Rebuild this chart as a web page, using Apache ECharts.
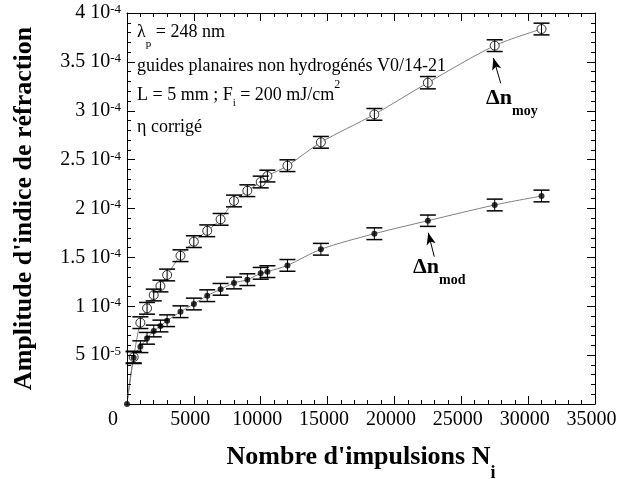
<!DOCTYPE html>
<html><head><meta charset="utf-8">
<script src="https://cdn.jsdelivr.net/npm/echarts@6/dist/echarts.min.js"></script>
<style>html,body{margin:0;padding:0;background:#fff}#c{width:618px;height:479px}</style>
</head><body><div id="c"></div>
<script>
// ---- data ----
const pulses = [500, 1000, 1500, 2000, 2500, 3000, 4000, 5000, 6000, 7000, 8000, 9000, 10000, 10500, 12000, 14500, 18500, 22500, 27500, 31000];
const dnMoy = [0.48e-4, 0.832e-4, 0.979e-4, 1.115e-4, 1.207e-4, 1.320e-4, 1.517e-4, 1.661e-4, 1.772e-4, 1.889e-4, 2.077e-4, 2.182e-4, 2.271e-4, 2.332e-4, 2.438e-4, 2.677e-4, 2.963e-4, 3.287e-4, 3.666e-4, 3.836e-4];
const dnMod = [0.474e-4, 0.586e-4, 0.672e-4, 0.747e-4, 0.798e-4, 0.852e-4, 0.944e-4, 1.023e-4, 1.108e-4, 1.173e-4, 1.238e-4, 1.272e-4, 1.337e-4, 1.354e-4, 1.418e-4, 1.583e-4, 1.742e-4, 1.875e-4, 2.036e-4, 2.128e-4];
const errMoy = [0.06e-4, 0.06e-4, 0.06e-4, 0.06e-4, 0.06e-4, 0.06e-4, 0.06e-4, 0.06e-4, 0.06e-4, 0.06e-4, 0.06e-4, 0.06e-4, 0.06e-4, 0.06e-4, 0.06e-4, 0.06e-4, 0.06e-4, 0.063e-4, 0.06e-4, 0.06e-4];
const errMod = [0.06e-4, 0.06e-4, 0.06e-4, 0.06e-4, 0.06e-4, 0.06e-4, 0.06e-4, 0.06e-4, 0.06e-4, 0.06e-4, 0.06e-4, 0.06e-4, 0.06e-4, 0.06e-4, 0.06e-4, 0.06e-4, 0.06e-4, 0.058e-4, 0.06e-4, 0.06e-4];
const origin = [0, 0];
const xTickLabels = ['0', '5000', '10000', '15000', '20000', '25000', '30000', '35000'];
const yTickMantissas = ['', '5', '1', '1.5', '2', '2.5', '3', '3.5', '4'];
const yTickExponents = ['', '-5', '-4', '-4', '-4', '-4', '-4', '-4', '-4'];
const xTitle = "Nombre d'impulsions N";
const xTitleSub = 'i';
const yTitle = "Amplitude d'indice de réfraction";
const infoLines = [
  ['λ', 'p', ' = 248 nm'],
  ['guides planaires non hydrogénés V0/14-21'],
  ['L = 5 mm ; F', 'i', ' = 200 mJ/cm', '2'],
  ['η corrigé']
];
// annotation anchors (data coords) and arrows (tail -> tip)
const annMoy = { label: 'moy', at: [26850, 3.238e-4], tail: [27950, 3.281e-4], tip: [27400, 3.54e-4] };
const annMod = { label: 'mod', at: [21390, 1.509e-4], tail: [22980, 1.507e-4], tip: [22530, 1.752e-4] };

const FONT = '"Liberation Serif", "Times New Roman", serif';
const X_MAX = 35000, X_STEP = 5000, Y_MAX = 4e-4, Y_STEP = 5e-5;

const moyPts = pulses.map((n, i) => [n, dnMoy[i]]);
const modPts = pulses.map((n, i) => [n, dnMod[i]]);
const moyErr = pulses.map((n, i) => [n, dnMoy[i], errMoy[i]]);
const modErr = pulses.map((n, i) => [n, dnMod[i], errMod[i]]);

function renderErr(params, api) {
  const x = api.value(0), y = api.value(1), e = api.value(2);
  const t = api.coord([x, y + e]), b = api.coord([x, y - e]);
  const hw = 8;
  const st = { stroke: '#000', lineWidth: 1 };
  const cap = { stroke: '#000', lineWidth: 1.5 };
  return { type: 'group', children: [
    { type: 'line', shape: { x1: t[0], y1: t[1], x2: b[0], y2: b[1] }, style: st },
    { type: 'line', shape: { x1: t[0] - hw, y1: t[1], x2: t[0] + hw, y2: t[1] }, style: cap },
    { type: 'line', shape: { x1: b[0] - hw, y1: b[1], x2: b[0] + hw, y2: b[1] }, style: cap }
  ]};
}

function axisBase() {
  return {
    type: 'value', min: 0,
    axisLine: { show: true, onZero: false, lineStyle: { color: '#000', width: 1 } },
    axisTick: { show: true, inside: true, length: 8, lineStyle: { color: '#000', width: 1 } },
    minorTick: { show: true, splitNumber: 5, length: 4, lineStyle: { color: '#000', width: 1 } },
    splitLine: { show: false }, minorSplitLine: { show: false }
  };
}

const chart = echarts.init(document.getElementById('c'), null, { renderer: 'canvas' });
const option = {
  animation: false,
  textStyle: { fontFamily: FONT, color: '#000' },
  grid: { left: 127, right: 23, top: 13, bottom: 75, containLabel: false, outerBoundsMode: 'none' },
  xAxis: [
    Object.assign(axisBase(), {
      max: X_MAX, interval: X_STEP, position: 'bottom',
      name: '{m|' + xTitle + '}{s|' + xTitleSub + '}', nameLocation: 'middle', nameGap: 40,
      nameTextStyle: { rich: {
        m: { fontFamily: FONT, fontSize: 26, fontWeight: 'bold', lineHeight: 28, verticalAlign: 'top', color: '#000' },
        s: { fontFamily: FONT, fontSize: 18, fontWeight: 'bold', lineHeight: 18, padding: [20, 0, 0, 0], verticalAlign: 'top', color: '#000' }
      } },
      axisLabel: {
        margin: 6, color: '#000',
        formatter: v => {
          const i = Math.round(v / X_STEP);
          return i === 0 ? '{z|' + xTickLabels[i] + '}' : '{v|' + xTickLabels[i] + '}';
        },
        rich: {
          v: { fontFamily: FONT, fontSize: 20, lineHeight: 20, padding: [0, 7, 0, 0], color: '#000' },
          z: { fontFamily: FONT, fontSize: 20, lineHeight: 20, padding: [0, 28, 0, 0], color: '#000' }
        }
      }
    }),
    Object.assign(axisBase(), { max: X_MAX, interval: X_STEP, position: 'top', axisLabel: { show: false } })
  ],
  yAxis: [
    Object.assign(axisBase(), {
      max: Y_MAX, interval: Y_STEP, position: 'left',
      name: yTitle, nameLocation: 'middle', nameGap: 89, nameRotate: 90,
      nameTextStyle: { fontFamily: FONT, fontSize: 26, fontWeight: 'bold', lineHeight: 28, color: '#000' },
      axisLabel: {
        margin: 6, color: '#000',
        formatter: v => {
          const i = Math.round(v / Y_STEP);
          if (!yTickMantissas[i]) return '';
          return '{m|' + yTickMantissas[i] + ' 10}{e|' + yTickExponents[i] + '}';
        },
        rich: {
          m: { fontFamily: FONT, fontSize: 20, lineHeight: 20, verticalAlign: 'bottom', color: '#000' },
          e: { fontFamily: FONT, fontSize: 13, lineHeight: 12, padding: [0, 0, 13, 0], verticalAlign: 'top', color: '#000' }
        }
      }
    }),
    Object.assign(axisBase(), { max: Y_MAX, interval: Y_STEP, position: 'right', axisLabel: { show: false } })
  ],
  series: [
    { type: 'line', data: [origin].concat(moyPts), smooth: 0.3, symbol: 'none', z: 2,
      lineStyle: { color: '#808080', width: 1 },
      markLine: { silent: true, symbol: ['none', 'arrow'], symbolSize: [7, 12], label: { show: false },
        lineStyle: { color: '#000', width: 1, type: 'solid' },
        data: [[{ coord: annMoy.tail }, { coord: annMoy.tip }]] } },
    { type: 'line', data: [origin].concat(modPts), smooth: 0.3, symbol: 'none', z: 2,
      lineStyle: { color: '#808080', width: 1 },
      markLine: { silent: true, symbol: ['none', 'arrow'], symbolSize: [7, 12], label: { show: false },
        lineStyle: { color: '#000', width: 1, type: 'solid' },
        data: [[{ coord: annMod.tail }, { coord: annMod.tip }]] } },
    { type: 'scatter', data: moyPts, symbol: 'circle', symbolSize: 9, z: 3, clip: false,
      itemStyle: { color: '#fff', borderColor: '#000', borderWidth: 1 } },
    { type: 'scatter', data: [origin].concat(modPts), symbol: 'circle', symbolSize: 6, z: 3, clip: false,
      itemStyle: { color: '#000' } },
    { type: 'custom', data: moyErr, renderItem: renderErr, z: 4, clip: false },
    { type: 'custom', data: modErr, renderItem: renderErr, z: 4, clip: false }
  ]
};
chart.setOption(option);

// text block top-left
const lineTops = [23, 57, 78.5, 118];
const infoRich = {
  m: { fontFamily: FONT, fontSize: 18, lineHeight: 20, verticalAlign: 'top' },
  m3: { fontFamily: FONT, fontSize: 18, lineHeight: 20, padding: [8, 0, 0, 0], verticalAlign: 'top' },
  s1: { fontFamily: FONT, fontSize: 11, lineHeight: 11, padding: [16, 0, 0, 0], verticalAlign: 'top' },
  s3: { fontFamily: FONT, fontSize: 11, lineHeight: 11, padding: [19, 0, 0, 0], verticalAlign: 'top' },
  p3: { fontFamily: FONT, fontSize: 12, lineHeight: 12, verticalAlign: 'top' }
};
const infoTexts = [
  '{m|' + infoLines[0][0] + '}{s1|' + infoLines[0][1] + '}{m|' + infoLines[0][2] + '}',
  '{m|' + infoLines[1][0] + '}',
  '{m3|' + infoLines[2][0] + '}{s3|' + infoLines[2][1] + '}{m3|' + infoLines[2][2] + '}{p3|' + infoLines[2][3] + '}',
  '{m|' + infoLines[3][0] + '}'
];
const graphics = infoTexts.map((t, i) => ({
  type: 'text', x: 137, y: lineTops[i], z: 10,
  style: { text: t, rich: infoRich, fill: '#000', fontFamily: FONT, fontSize: 18, align: 'left', verticalAlign: 'top' }
}));
const annRich = {
  d: { fontFamily: FONT, fontSize: 22, fontWeight: 'bold', lineHeight: 22, verticalAlign: 'top' },
  s: { fontFamily: FONT, fontSize: 14, fontWeight: 'bold', lineHeight: 14, padding: [17, 0, 0, 0], verticalAlign: 'top' }
};
[annMoy, annMod].forEach(a => {
  const p = chart.convertToPixel({ gridIndex: 0 }, a.at);
  graphics.push({ type: 'text', x: p[0], y: p[1], z: 10,
    style: { text: '{d|Δn}{s|' + a.label + '}', rich: annRich, fill: '#000', fontFamily: FONT, align: 'left', verticalAlign: 'top' } });
});
chart.setOption({ graphic: graphics });

// make sure the axis tick marks drawn by the axes are painted on top
try {
  const zr = chart.getZr();
  const p0 = chart.convertToPixel({ gridIndex: 0 }, [0, 0]);
  const p1 = chart.convertToPixel({ gridIndex: 0 }, [X_MAX, Y_MAX]);
  const edgesX = [p0[0], p1[0]], edgesY = [p0[1], p1[1]];
  zr.storage.getDisplayList(true).forEach(el => {
    if (el.type !== 'line' || !el.shape) return;
    const s = el.shape;
    const vertical = Math.abs(s.x1 - s.x2) < 0.01, horizontal = Math.abs(s.y1 - s.y2) < 0.01;
    if (!vertical && !horizontal) return;
    const L = Math.abs(s.x2 - s.x1) + Math.abs(s.y2 - s.y1);
    if (!(Math.abs(L - 8) < 0.6 || Math.abs(L - 4) < 0.6)) return;
    const near = vertical
      ? edgesY.some(e => Math.abs(s.y1 - e) < 1.5 || Math.abs(s.y2 - e) < 1.5)
      : edgesX.some(e => Math.abs(s.x1 - e) < 1.5 || Math.abs(s.x2 - e) < 1.5);
    if (!near) return;
    el.invisible = false;
    el.z = 50;
    el.style.opacity = 1;
    el.style.stroke = '#000';
    el.style.lineWidth = 1;
    el.markRedraw();
  });
  zr.refreshImmediately();
} catch (e) { /* keep chart as drawn */ }
</script>
</body></html>
